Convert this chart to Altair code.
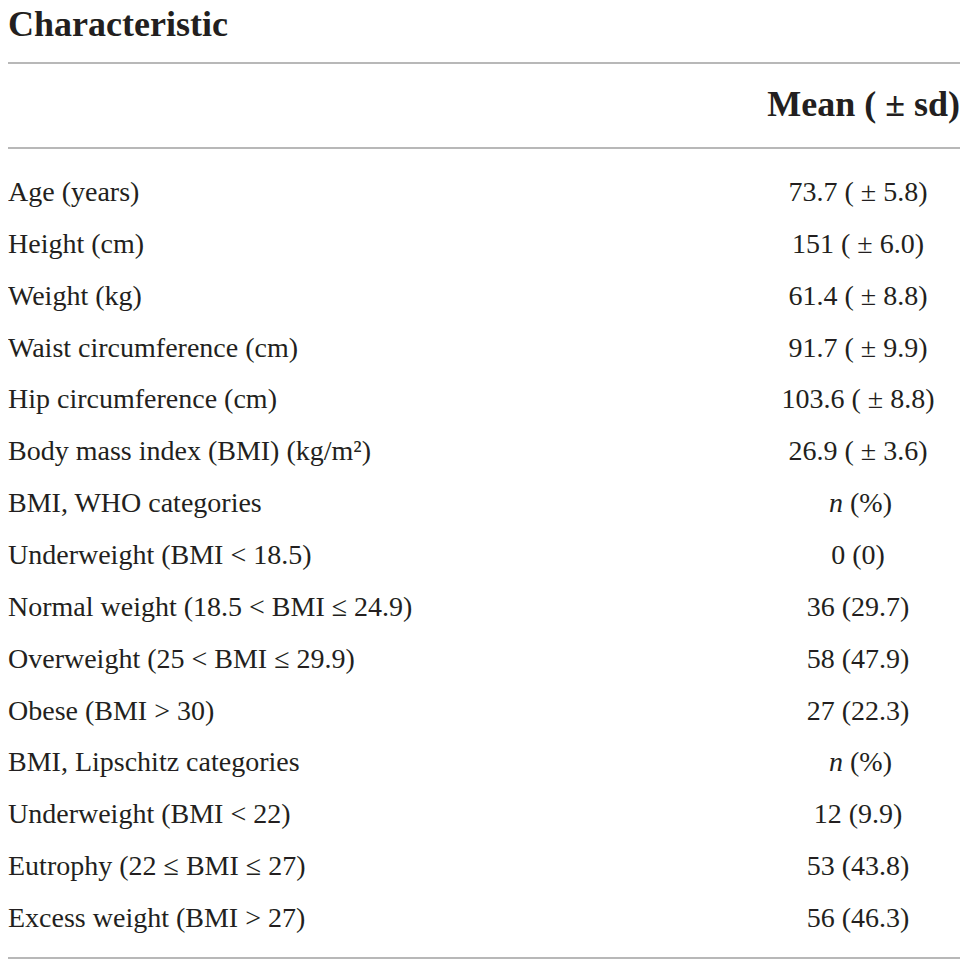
import altair as alt
import pandas as pd

labels = [
    "Age (years)",
    "Height (cm)",
    "Weight (kg)",
    "Waist circumference (cm)",
    "Hip circumference (cm)",
    "Body mass index (BMI) (kg/m²)",
    "BMI, WHO categories",
    "Underweight (BMI < 18.5)",
    "Normal weight (18.5 < BMI ≤ 24.9)",
    "Overweight (25 < BMI ≤ 29.9)",
    "Obese (BMI > 30)",
    "BMI, Lipschitz categories",
    "Underweight (BMI < 22)",
    "Eutrophy (22 ≤ BMI ≤ 27)",
    "Excess weight (BMI > 27)",
]
values = [
    "73.7 ( ± 5.8)",
    "151 ( ± 6.0)",
    "61.4 ( ± 8.8)",
    "91.7 ( ± 9.9)",
    "103.6 ( ± 8.8)",
    "26.9 ( ± 3.6)",
    "n (%)",
    "0 (0)",
    "36 (29.7)",
    "58 (47.9)",
    "27 (22.3)",
    "n (%)",
    "12 (9.9)",
    "53 (43.8)",
    "56 (46.3)",
]
title_text = "Characteristic"
header_text = "Mean ( ± sd)"

df = pd.DataFrame({"idx": list(range(len(labels))), "label": labels, "value": values})
df["np"] = df["value"] == "n (%)"

FONT = "Liberation Serif"
W, H = 952, 952
ink = "#231f20"

yenc = alt.Y("idx:Q", scale=alt.Scale(domain=[0, 14], range=[185, 911]), axis=None)

base = alt.Chart(df)

left = base.mark_text(align="left", baseline="middle", font=FONT, fontSize=28, color=ink).encode(
    x=alt.value(0), y=yenc, text="label:N")

right = base.transform_filter("!datum.np").mark_text(
    align="center", baseline="middle", font=FONT, fontSize=28, color=ink).encode(
    x=alt.value(850), y=yenc, text="value:N")

n_it = base.transform_filter("datum.np").mark_text(
    align="right", baseline="middle", font=FONT, fontSize=28, fontStyle="italic", color=ink).encode(
    x=alt.value(835), y=yenc, text=alt.value("n"))

n_pct = base.transform_filter("datum.np").mark_text(
    align="left", baseline="middle", font=FONT, fontSize=28, color=ink).encode(
    x=alt.value(842), y=yenc, text=alt.value("(%)"))

title = base.transform_filter("datum.idx == 0").mark_text(
    align="left", baseline="top", font=FONT, fontSize=36, fontWeight="bold", color=ink).encode(
    x=alt.value(0), y=alt.value(0), text=alt.value(title_text))

header = base.transform_filter("datum.idx == 0").mark_text(
    align="right", baseline="middle", font=FONT, fontSize=36, fontWeight="bold", color=ink).encode(
    x=alt.value(W), y=alt.value(97), text=alt.value(header_text))

rules = []
for yy in [55, 140, 950]:
    rules.append(base.transform_filter("datum.idx == 0").mark_rule(color="#a0a0a0", strokeWidth=1.5).encode(
        x=alt.value(0), x2=alt.value(W), y=alt.value(yy)))

chart = alt.layer(left, right, n_it, n_pct, title, header, *rules).properties(
    width=W, height=H, padding=0, autosize="none"
).configure_view(stroke=None)

chart.save("out.html", embed_options={"renderer": "svg", "actions": False})
